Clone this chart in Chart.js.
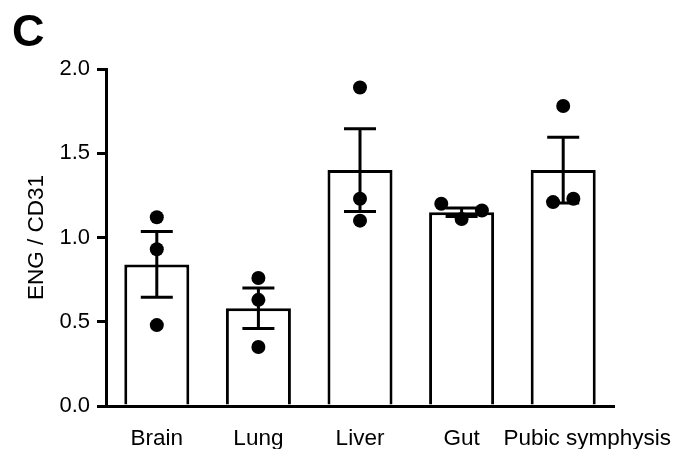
<!DOCTYPE html>
<html>
<head>
<meta charset="utf-8">
<script src="https://cdn.jsdelivr.net/npm/chart.js@4"></script>
<style>
  html, body { margin: 0; padding: 0; background: #fff; }
  #wrap { width: 681px; height: 449px; position: relative; }
</style>
</head>
<body>
<div id="wrap"><canvas id="Chart"></canvas></div>
<script>
// data
const tissues = ['Brain', 'Lung', 'Liver', 'Gut', 'Pubic symphysis'];
const meanRatio = [0.84, 0.58, 1.40, 1.15, 1.40];
const semRatio = [0.195, 0.12, 0.245, 0.025, 0.195];
const yTicks = [0, 0.5, 1.0, 1.5, 2.0];

// individual replicates: tissue index, x jitter, value
const dotTissue = [0, 0, 0, 1, 1, 1, 2, 2, 2, 3, 3, 3, 4, 4, 4];
const dotJitter = [0, 0, 0, 0, 0, 0, 0, 0, 0, -0.2, 0, 0.2, 0, -0.1, 0.1];
const dotValue = [1.12, 0.93, 0.48, 0.76, 0.63, 0.35, 1.89, 1.23, 1.10, 1.20, 1.11, 1.16, 1.78, 1.21, 1.23];

Chart.defaults.font.family = '"Liberation Sans", Arial, sans-serif';
Chart.defaults.color = '#000';

// error bars (mean +/- SEM) drawn on top of the bars
const errorBars = {
    id: 'errorBars',
    afterDatasetsDraw(chart) {
        const ctx = chart.ctx;
        const x = chart.scales.x, y = chart.scales.y;
        ctx.save();
        ctx.strokeStyle = '#000';
        ctx.lineWidth = 3;
        meanRatio.forEach((m, i) => {
            const cx = x.getPixelForValue(i);
            const top = y.getPixelForValue(m + semRatio[i]);
            const bot = y.getPixelForValue(m - semRatio[i]);
            ctx.beginPath();
            ctx.moveTo(cx, top); ctx.lineTo(cx, bot);
            ctx.moveTo(cx - 16, top); ctx.lineTo(cx + 16, top);
            ctx.moveTo(cx - 16, bot); ctx.lineTo(cx + 16, bot);
            ctx.stroke();
        });
        ctx.restore();
    }
};

// the long last category label sits a bit to the right so it clears "Gut"
const nudgeLastLabel = {
    id: 'nudgeLastLabel',
    beforeDraw(chart) {
        const items = chart.scales.x.getLabelItems(chart.chartArea);
        const last = items[items.length - 1];
        if (last && !last._nudged) {
            last.options.translation[0] += 24;
            last._nudged = true;
        }
    }
};

var ctx = document.getElementById('Chart').getContext('2d');
var myChart = new Chart(ctx, {
    type: 'bar',
    data: {
        labels: tissues,
        datasets: [{
            type: 'scatter',
            data: dotValue.map((v, i) => ({ x: dotTissue[i] + dotJitter[i], y: v })),
            xAxisID: 'xj',
            backgroundColor: '#000',
            borderWidth: 0,
            pointRadius: 7,
            order: 0
        }, {
            data: meanRatio,
            backgroundColor: '#fff',
            borderColor: '#000',
            borderWidth: 3,
            grouped: false,
            categoryPercentage: 1,
            barPercentage: 0.64,
            order: 1
        }]
    },
    options: {
        responsive: true,
        maintainAspectRatio: false,
        animation: false,
        devicePixelRatio: 1,
        layout: { padding: { top: 0, left: 12, right: 67, bottom: 0 } },
        plugins: {
            legend: { display: false },
            tooltip: { enabled: false },
            title: {
                display: true,
                text: 'C',
                align: 'start',
                font: { size: 45, weight: 'bold', lineHeight: 1 },
                padding: { top: 11, bottom: 13 },
                color: '#000'
            }
        },
        scales: {
            x: {
                grid: { display: false, drawTicks: false },
                border: { display: true, width: 3, color: '#000' },
                ticks: { font: { size: 22.5 }, padding: 19, maxRotation: 0, autoSkip: false },
                afterFit: (s) => { s.height = 43; s.paddingLeft = 0; s.paddingRight = 0; }
            },
            // hidden linear axis so replicate dots can be jittered around each category
            xj: {
                type: 'linear',
                display: false,
                offset: false,
                min: -0.5,
                max: 4.5
            },
            y: {
                min: 0,
                max: 2,
                afterBuildTicks: (s) => { s.ticks = yTicks.map(v => ({ value: v })); },
                ticks: {
                    font: { size: 22 },
                    padding: 7,
                    callback: (v) => v.toFixed(1)
                },
                grid: { drawOnChartArea: false, drawTicks: true, tickLength: 9, lineWidth: 3, tickWidth: 3, color: '#000' },
                border: { display: true, width: 3, color: '#000' },
                title: { display: true, text: 'ENG / CD31', font: { size: 22.5 }, padding: { top: 11 } },
                afterFit: (s) => { s.width = 94; s.paddingTop = 0; s.paddingBottom = 0; }
            }
        }
    },
    plugins: [errorBars, nudgeLastLabel]
});
</script>
</body>
</html>
